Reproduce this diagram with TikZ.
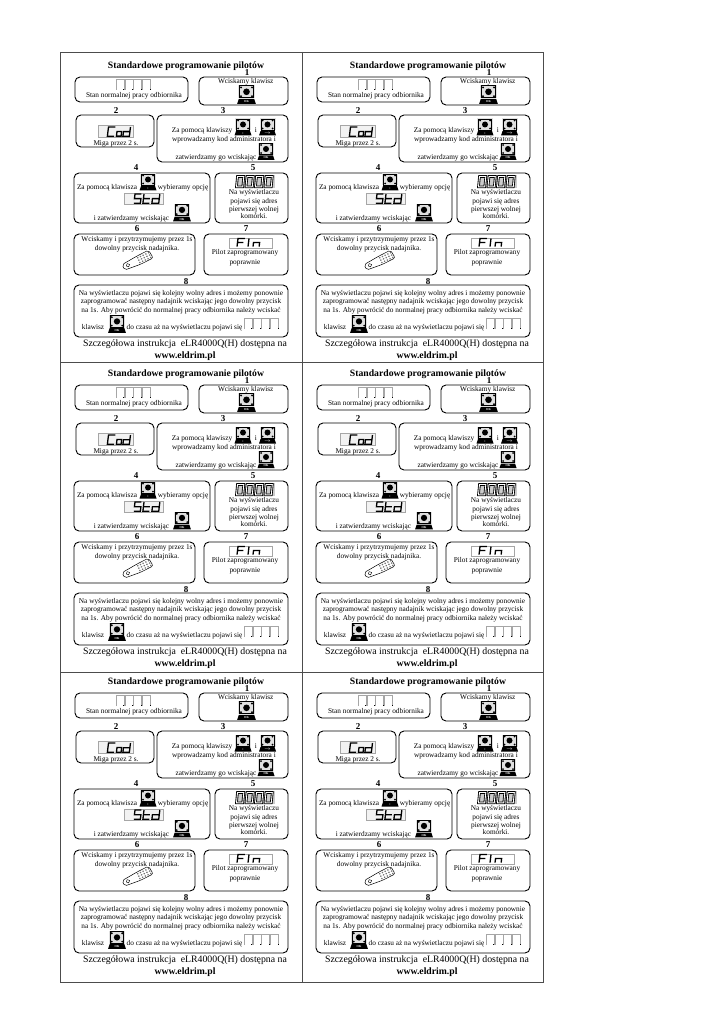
\documentclass[tikz,border=0pt]{standalone}
\usepackage{fontspec}
\setmainfont{Liberation Serif}
\tikzset{
    panel/.style={black,line width=0.9pt,rounded corners=5pt},
    frame/.style={black!70,line width=0.7pt},
    bodytext/.style={font=\fontsize{7.3}{8}\selectfont,inner sep=0pt,text height=4.4pt,text depth=1.2pt,yshift=-1pt},
    stepnum/.style={font=\fontsize{9}{10}\bfseries\selectfont,inner sep=0pt,yshift=-1pt},
    heading/.style={font=\fontsize{9.7}{10}\bfseries\selectfont,inner sep=0pt,yshift=-1.8pt},
    footer/.style={font=\fontsize{9.8}{10}\selectfont,inner sep=0pt,yshift=-1.8pt},
    display/.style={draw=black!35,line width=0.5pt},
    segline/.style={black,line width=1.3pt,x=3.6pt,y=-3.1pt,xslant=0.12,line join=miter},
    hollowseg/.style={draw=black,double=white,double distance=0.9pt,line width=0.85pt,x=6.3pt,y=-5.2pt,xslant=0.1},
    keypad/.pic={
        \fill[black!12](-8,-8)rectangle(8,4);
        \draw[black,line width=0.9pt](-6.5,-7.5)rectangle(6.5,3.5);
        \fill[black](0,-2)circle(3);
        \foreach \kx/\ky in {-5/-6,5/-6,-5/2,5/2}{\fill[black](\kx,\ky)circle(1);}
        \fill[black](-7,4.5)--(7,4.5)--(8.5,9)--(-8.5,9)--cycle;
        \node[white,inner sep=0pt,font=\fontsize{3}{3}\bfseries\selectfont] at (0,6.8){\tikzpictext};
    }
}
\newcommand{\emptycells}[2]{%
    \foreach \k in {0,1,2,3}{
        \draw[display,shift={(#1,#2)}](\k*8.8,11)--(\k*8.8,0)--(\k*8.8+8,0)--(\k*8.8+8,11);
        \fill[black,shift={(#1,#2)}](\k*8.8+7.4,9.8)rectangle(\k*8.8+8.2,11);
    }}
\newcommand{\seg}[3]{\draw[shift={(#1,#2)},segline]#3;}
\begin{document}
\begin{tikzpicture}[x=1pt,y=-1pt]
\useasboundingbox(0,0)rectangle(725,1024);
\fill[white](0,0)rectangle(725,1024);
\draw[frame](60,52)rectangle(543.5,982);
\draw[frame](302,52)--(302,982);
\draw[frame](60,362)--(543.5,362);
\draw[frame](60,672)--(543.5,672);
\foreach \c/\dx/\dy in {a/0/0,b/242/0,c/0/308,d/242/308,e/0/616,f/242/616}{
\begin{scope}[shift={(\dx,\dy)},name prefix=\c-]
\node[heading](title) at (186,64.5){Standardowe programowanie pilotów};
% step 1
\node[stepnum](num1) at (247,72){1};
\draw[panel](75,77)rectangle(188,102);
\emptycells{116}{79}
\node[bodytext](state) at (134,95){Stan normalnej pracy odbiornika};
\draw[panel](199,77)rectangle(288,105);
\node[bodytext](press) at (245.7,81){Wciskamy klawisz};
\pic[pic text=OK,scale=1.1] at (246.5,94){keypad};
% step 2 and 3
\node[stepnum](num2) at (116,110){2};
\node[stepnum](num3) at (223,110){3};
\draw[panel](76,115)rectangle(154,147);
\draw[display,fill=black!5](98,125)rectangle(133,137);
\seg{108.5}{127}{(1.9,0)--(0,0)--(0,3)--(1.9,3)}
\seg{117}{131.5}{(0,0)--(1.3,0)--(1.3,1.5)--(0,1.5)--cycle}
\seg{124}{127}{(1.8,0)--(1.8,3)--(0,3)--(0,1.5)--(1.8,1.5)}
\node[bodytext](blink) at (116,142.5){Miga przez 2 s.};
\draw[panel](157,115)rectangle(288,162);
\node[bodytext](enter) at (202,130){Za pomocą klawiszy};
\pic[pic text=+] at (243,126.5){keypad};
\node[bodytext](andkey) at (256,130){i};
\pic[pic text=$\rightarrow$] at (267.5,126.5){keypad};
\node[bodytext](admin) at (224,139){wprowadzamy kod administratora i};
\pic[pic text=OK] at (266,151){keypad};
\node[bodytext](confirm) at (216,156.5){zatwierdzamy go wciskając};
% step 4 and 5
\node[stepnum](num4) at (136,167){4};
\node[stepnum](num5) at (253,167){5};
\draw[panel](74,173)rectangle(210,223);
\node[bodytext](choose) at (107,187){Za pomocą klawisza};
\pic[pic text=+] at (148,181.5){keypad};
\node[bodytext](option) at (183,187){wybieramy opcję};
\draw[display,fill=black!5](124,193)rectangle(163,204);
\seg{135}{194}{(1.8,0)--(0,0)--(0,1.5)--(1.8,1.5)--(1.8,3)--(0,3)}
\seg{144}{194}{(0,0)--(0,3)--(1.8,3) (0,1.5)--(1.8,1.5)}
\seg{153}{194}{(1.9,0)--(1.9,3)--(0,3)--(0,1.5)--(1.9,1.5)}
\pic[pic text=OK,scale=1.05] at (182,212){keypad};
\node[bodytext](approve) at (131.5,218){i zatwierdzamy wciskając};
\draw[panel](215,173)rectangle(288,223);
\fill[black!20](236,175)rectangle(275,188);
\foreach \k in {0,1,2,3}{
\draw[shift={(237.5+\k*9.5,176.5)},hollowseg](0,0)rectangle(1,2);
}
\node[bodytext](msg1) at (254,192){Na wyświetlaczu};
\node[bodytext](msg2) at (254,200.5){pojawi się adres};
\node[bodytext](msg3) at (254,208.5){pierwszej wolnej};
\node[bodytext](msg4) at (254,216){komórki.};
% step 6 and 7
\node[stepnum](num6) at (137,228){6};
\node[stepnum](num7) at (246,228){7};
\draw[panel](74,234)rectangle(195,275);
\node[bodytext](hold1) at (137,239){Wciskamy i przytrzymujemy przez 1s};
\node[bodytext](hold2) at (137,248){dowolny przycisk nadajnika.};
\begin{scope}[shift={(137,261)},rotate=25]
\draw[black,line width=0.5pt,fill=white,rounded corners=2pt](-15,-3)--(2,-4.5)--(15,-5)--(16,4)--(2,4.5)--(-15,3)--cycle;
\draw[black,line width=0.4pt](-10,0)circle(1.8);
\foreach \kx in {2,5,8,11,14}{\foreach \ky in {-2.6,0,2.6}{\fill[black!55](\kx,\ky)circle(0.9);}}
\end{scope}
\draw[panel](204,234)rectangle(288,275);
\draw[display](229,238)rectangle(272,248);
\seg{238}{238.5}{(1.9,0)--(0,0)--(0,2.6) (0,1.3)--(1.6,1.3)}
\seg{249}{238.5}{(0,0)--(0,2.6)}
\seg{254}{238.5}{(0,2.6)--(0,1.3)--(1.7,1.3)--(1.7,2.6)}
\node[bodytext](done1) at (245,252){Pilot zaprogramowany};
\node[bodytext](done2) at (245,262){poprawnie};
% step 8
\node[stepnum](num8) at (186,281){8};
\draw[panel](74,285)rectangle(288,337);
\node[bodytext](next1) at (181,292.5){Na wyświetlaczu pojawi się kolejny wolny adres i możemy ponownie};
\node[bodytext](next2) at (181,301){zaprogramować następny nadajnik wciskając jego dowolny przycisk};
\node[bodytext](next3) at (181,309.5){na 1s. Aby powrócić do normalnej pracy odbiornika należy wciskać};
\node[bodytext](next4) at (93,327){klawisz};
\pic[pic text=OK,scale=1.05] at (117,323.5){keypad};
\node[bodytext](next5) at (184.5,327){do czasu aż na wyświetlaczu pojawi się};
\emptycells{244}{318}
\node[footer](manual) at (185,342){Szczegółowa instrukcja\ \ eLR4000Q(H) dostępna na};
\node[heading](site) at (185,354){www.eldrim.pl};
\end{scope}
}
\end{tikzpicture}
\end{document}
